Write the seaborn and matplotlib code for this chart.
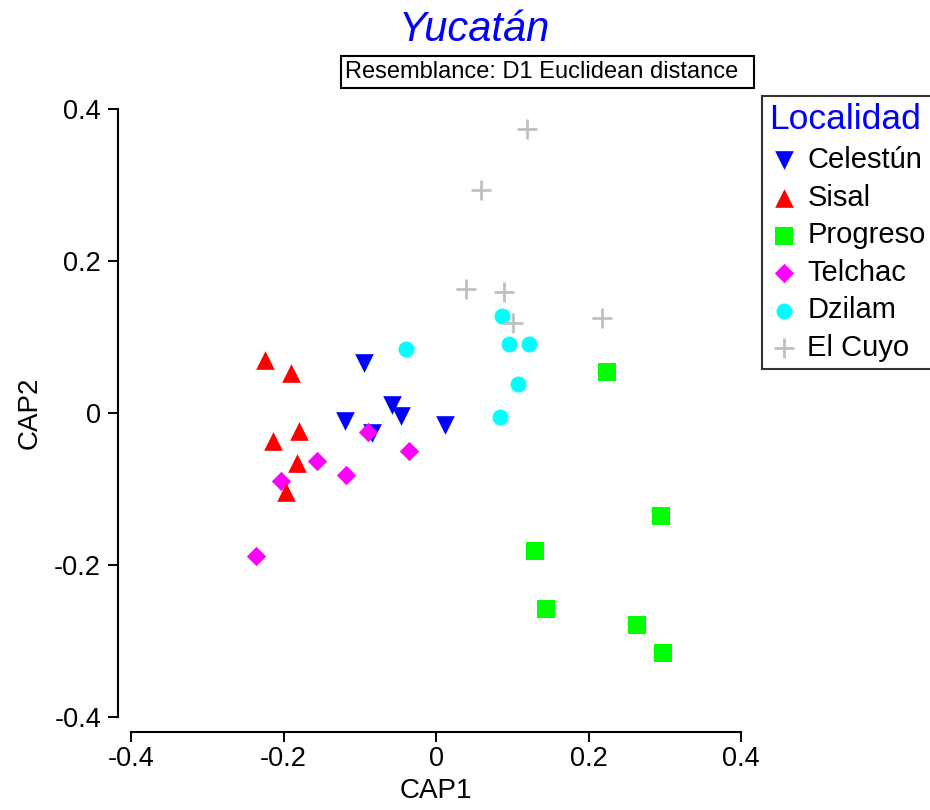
import matplotlib
matplotlib.use("Agg")
import matplotlib.pyplot as plt
from matplotlib.patches import Rectangle
import seaborn as sns
import pandas as pd

# CAP ordination scores per locality
sites = ["Celestún", "Sisal", "Progreso", "Telchac", "Dzilam", "El Cuyo"]

celestun_cap1 = [-0.094, -0.058, -0.046, -0.119, -0.084, 0.012]
celestun_cap2 = [0.066, 0.011, -0.004, -0.011, -0.026, -0.016]

sisal_cap1 = [-0.224, -0.190, -0.180, -0.214, -0.182, -0.197]
sisal_cap2 = [0.070, 0.053, -0.024, -0.037, -0.066, -0.104]

progreso_cap1 = [0.224, 0.295, 0.130, 0.144, 0.264, 0.298]
progreso_cap2 = [0.054, -0.136, -0.182, -0.258, -0.279, -0.316]

telchac_cap1 = [-0.089, -0.035, -0.156, -0.118, -0.203, -0.236]
telchac_cap2 = [-0.025, -0.050, -0.063, -0.082, -0.089, -0.188]

dzilam_cap1 = [-0.039, 0.087, 0.096, 0.122, 0.108, 0.084]
dzilam_cap2 = [0.084, 0.128, 0.091, 0.091, 0.038, -0.005]

elcuyo_cap1 = [0.119, 0.059, 0.039, 0.089, 0.101, 0.218]
elcuyo_cap2 = [0.374, 0.293, 0.163, 0.159, 0.118, 0.125]

ticks = [-0.4, -0.2, 0, 0.2, 0.4]
tick_labels = ["-0.4", "-0.2", "0", "0.2", "0.4"]

frames = []
for name, xs, ys in [
    ("Celestún", celestun_cap1, celestun_cap2),
    ("Sisal", sisal_cap1, sisal_cap2),
    ("Progreso", progreso_cap1, progreso_cap2),
    ("Telchac", telchac_cap1, telchac_cap2),
    ("Dzilam", dzilam_cap1, dzilam_cap2),
    ("El Cuyo", elcuyo_cap1, elcuyo_cap2),
]:
    frames.append(pd.DataFrame({"CAP1": xs, "CAP2": ys, "Localidad": name}))
df = pd.concat(frames, ignore_index=True)

styles = {
    "Celestún": dict(marker="v", color="#0000ff", s=180),
    "Sisal": dict(marker="^", color="#ff0000", s=180),
    "Progreso": dict(marker="s", color="#00ff00", s=150),
    "Telchac": dict(marker="D", color="#ff00ff", s=97),
    "Dzilam": dict(marker="o", color="#00ffff", s=132),
    "El Cuyo": dict(marker="+", color="#c0c0c0", s=207),
}
draw_order = ["Celestún", "Telchac", "Sisal", "Progreso", "Dzilam", "El Cuyo"]

sns.set_style("ticks")
plt.rcParams["font.family"] = ["Liberation Sans", "DejaVu Sans"]
plt.rcParams["text.color"] = "black"
plt.rcParams["axes.labelcolor"] = "black"
plt.rcParams["xtick.color"] = "black"
plt.rcParams["ytick.color"] = "black"

fig = plt.figure(figsize=(9.3, 8.1), dpi=100)
ax = fig.add_axes([131 / 930, 1 - 717 / 810, 610 / 930, 608 / 810])

for name in draw_order:
    st = styles[name]
    sub = df[df["Localidad"] == name]
    if st["marker"] == "+":
        sns.scatterplot(data=sub, x="CAP1", y="CAP2", ax=ax, marker="+",
                        color=st["color"], s=st["s"], linewidth=2.0,
                        label=name, zorder=3)
    else:
        sns.scatterplot(data=sub, x="CAP1", y="CAP2", ax=ax, marker=st["marker"],
                        color=st["color"], s=st["s"], linewidth=0,
                        label=name, zorder=3)

ax.set_xlim(-0.4, 0.4)
ax.set_ylim(-0.4, 0.4)
ax.set_xticks(ticks)
ax.set_xticklabels(tick_labels)
ax.set_yticks(ticks)
ax.set_yticklabels(tick_labels)

for side in ["top", "right"]:
    ax.spines[side].set_visible(False)
ax.spines["left"].set_position(("outward", 9.4))
ax.spines["bottom"].set_position(("outward", 10.8))
for side in ["left", "bottom"]:
    ax.spines[side].set_linewidth(1.5)
    ax.spines[side].set_color("black")
ax.tick_params(axis="both", length=7.2, width=1.4, colors="black",
               labelcolor="black", labelsize=19.5)
ax.tick_params(axis="y", pad=5)
ax.tick_params(axis="x", pad=3)

ax.set_xlabel("CAP1", fontsize=20, labelpad=4, color="black")
ax.set_ylabel("CAP2", fontsize=20, labelpad=8, color="black")

# title and resemblance note
fig.text(474 / 930, 1 - 30 / 810, "Yucatán", color="#0000ff", fontsize=30,
         style="italic", ha="center", va="center")
fig.patches.append(Rectangle((341 / 930, 1 - 88 / 810), 413 / 930, 32 / 810,
                             transform=fig.transFigure, fill=False,
                             edgecolor="black", linewidth=1.5))
fig.text(345 / 930, 1 - 72 / 810, "Resemblance: D1 Euclidean distance",
         fontsize=17, ha="left", va="center", color="black")

# legend in the legend's own order
handles, labels = ax.get_legend_handles_labels()
lookup = dict(zip(labels, handles))
leg = ax.legend([lookup[n] for n in sites], sites,
                loc="upper left", bbox_to_anchor=(762 / 930, 1 - 96 / 810),
                bbox_transform=fig.transFigure, fontsize=21,
                title="Localidad", title_fontsize=25.5,
                alignment="left", fancybox=False, frameon=True,
                borderpad=0.25, handlelength=1.0, handletextpad=0.3,
                labelspacing=0.33, borderaxespad=0)
leg.get_title().set_color("#0000ff")
for t in leg.get_texts():
    t.set_color("black")
leg.get_frame().set_edgecolor("black")
leg.get_frame().set_linewidth(1.5)

fig.savefig("out.png", dpi=100)
